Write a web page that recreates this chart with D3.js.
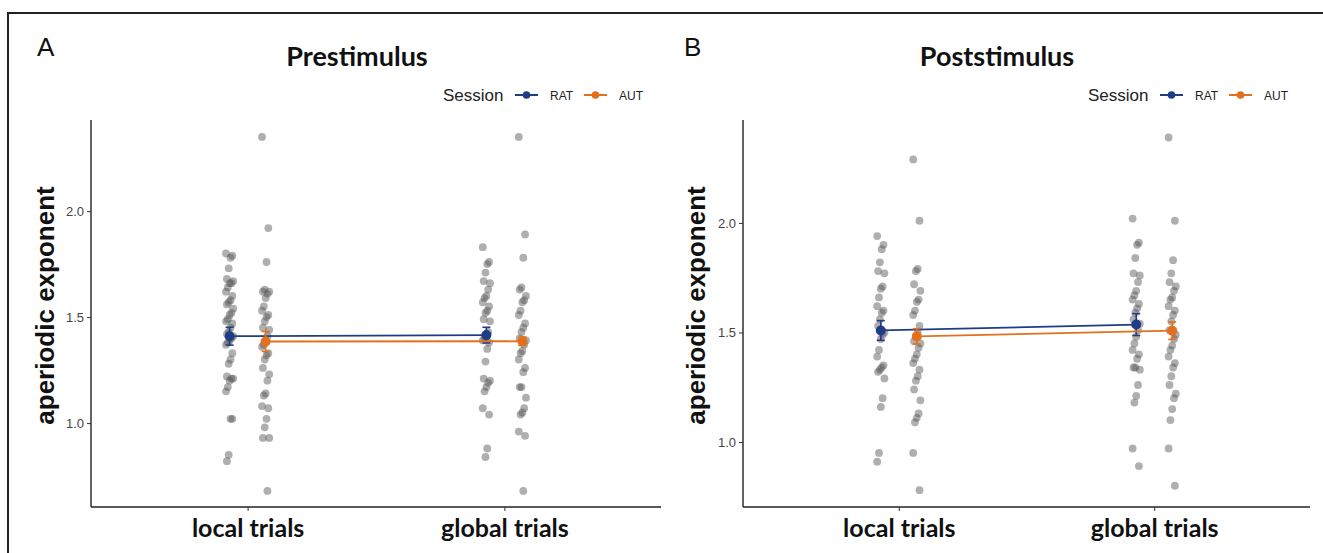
<!DOCTYPE html>
<html>
<head>
<meta charset="utf-8">
<script src="https://cdn.jsdelivr.net/npm/d3@7"></script>
<style>
  body { margin: 0; background: #fff; }
  svg { display: block; }
</style>
</head>
<body>
<svg width="1323" height="553"></svg>
<script>
// data
var sessions = ["RAT", "AUT"];
var conditions = ["local trials", "global trials"];
var yTicks = [1.0, 1.5, 2.0];

// Prestimulus
var preLocalRAT = [1.80,1.79,1.78,1.73,1.68,1.67,1.66,1.66,1.64,1.62,1.60,1.58,1.57,1.56,1.54,1.52,1.51,1.49,1.48,1.47,1.45,1.43,1.42,1.41,1.40,1.39,1.38,1.37,1.33,1.30,1.28,1.22,1.21,1.21,1.20,1.17,1.15,1.02,1.02,0.85,0.82];
var preLocalAUT = [2.35,1.92,1.76,1.63,1.62,1.62,1.61,1.59,1.55,1.53,1.51,1.50,1.48,1.45,1.44,1.41,1.38,1.37,1.36,1.33,1.32,1.30,1.26,1.23,1.20,1.14,1.13,1.08,1.07,1.02,0.98,0.93,0.93,0.68];
var preGlobalRAT = [1.83,1.76,1.75,1.71,1.67,1.66,1.63,1.60,1.59,1.57,1.55,1.53,1.52,1.49,1.48,1.43,1.41,1.40,1.39,1.38,1.35,1.29,1.21,1.20,1.19,1.17,1.15,1.07,1.04,0.88,0.84];
var preGlobalAUT = [2.35,1.89,1.78,1.64,1.63,1.60,1.58,1.57,1.53,1.51,1.47,1.45,1.43,1.40,1.39,1.37,1.34,1.33,1.30,1.26,1.24,1.17,1.17,1.12,1.07,1.05,1.04,0.96,0.94,0.68];
var preMeanRAT = [1.41, 1.415];
var preMeanAUT = [1.385, 1.386];
var preSeRAT = [0.042, 0.037];
var preSeAUT = [0.047, 0.02];

// Poststimulus
var postLocalRAT = [1.94,1.90,1.88,1.82,1.78,1.77,1.71,1.70,1.66,1.62,1.60,1.59,1.56,1.53,1.50,1.49,1.47,1.42,1.39,1.35,1.34,1.33,1.32,1.29,1.20,1.16,0.95,0.91];
var postLocalAUT = [2.29,2.01,1.79,1.78,1.72,1.69,1.65,1.64,1.60,1.58,1.53,1.50,1.48,1.46,1.45,1.43,1.40,1.38,1.36,1.33,1.30,1.28,1.24,1.19,1.13,1.11,1.09,0.95,0.78];
var postGlobalRAT = [2.02,1.91,1.90,1.84,1.77,1.76,1.73,1.69,1.67,1.65,1.63,1.61,1.59,1.56,1.54,1.51,1.48,1.45,1.42,1.40,1.38,1.34,1.34,1.33,1.26,1.21,1.18,0.97,0.89];
var postGlobalAUT = [2.39,2.01,1.83,1.77,1.73,1.71,1.69,1.66,1.65,1.62,1.60,1.58,1.55,1.51,1.49,1.47,1.44,1.42,1.39,1.36,1.34,1.30,1.26,1.22,1.20,1.15,1.10,0.97,0.80];
var postMeanRAT = [1.509, 1.536];
var postMeanAUT = [1.482, 1.508];
var postSeRAT = [0.045, 0.05];
var postSeAUT = [0.035, 0.04];

var colors = { RAT: "#1f3d87", AUT: "#e2701d" };

var svg = d3.select("svg");

// outer frame (top and left edge of the figure)
svg.append("path")
    .attr("d", "M8,553 L8,13 L1323,13")
    .attr("fill", "none")
    .attr("stroke", "#222")
    .attr("stroke-width", 2);

var panels = [
    { letter: "A", title: "Prestimulus", letterX: 37, titleX: 357, ylabX: 45,
      x0: 91, x1: 661, yDomain: [0.604, 2.43], legendX: 443,
      points: { RAT: [preLocalRAT, preGlobalRAT], AUT: [preLocalAUT, preGlobalAUT] },
      means: { RAT: preMeanRAT, AUT: preMeanAUT },
      se: { RAT: preSeRAT, AUT: preSeAUT } },
    { letter: "B", title: "Poststimulus", letterX: 684, titleX: 997, ylabX: 696,
      x0: 743, x1: 1310, yDomain: [0.703, 2.47], legendX: 1088,
      points: { RAT: [postLocalRAT, postGlobalRAT], AUT: [postLocalAUT, postGlobalAUT] },
      means: { RAT: postMeanRAT, AUT: postMeanAUT },
      se: { RAT: postSeRAT, AUT: postSeAUT } }
];

var plotTop = 120, plotBottom = 507, dodge = 18;

panels.forEach(function(p) {
    var g = svg.append("g");

    var x = d3.scalePoint().domain(conditions).range([p.x0, p.x1]).padding(0.61);
    var y = d3.scaleLinear().domain(p.yDomain).range([plotBottom, plotTop]);

    // panel letter and title
    g.append("text").attr("x", p.letterX).attr("y", 56)
        .attr("font-family", "Liberation Sans, Arial, sans-serif")
        .attr("font-size", 26).attr("fill", "#111").text(p.letter);
    g.append("text").attr("x", p.titleX).attr("y", 66)
        .attr("text-anchor", "middle")
        .attr("font-family", "Lato, sans-serif").attr("font-weight", "bold")
        .attr("font-size", 27).attr("fill", "#111").text(p.title);

    // legend
    var lg = g.append("g").attr("transform", "translate(" + p.legendX + ",95)");
    lg.append("text").attr("x", 0).attr("y", 6)
        .attr("font-family", "Liberation Sans, Arial, sans-serif")
        .attr("font-size", 17).attr("fill", "#222").text("Session");
    var lx = 72;
    sessions.forEach(function(s) {
        lg.append("line").attr("x1", lx).attr("x2", lx + 23).attr("y1", 0).attr("y2", 0)
            .attr("stroke", colors[s]).attr("stroke-width", 2);
        lg.append("circle").attr("cx", lx + 11.5).attr("cy", 0).attr("r", 3.8).attr("fill", colors[s]);
        lg.append("text").attr("x", lx + 35).attr("y", 4.5)
            .attr("font-family", "Liberation Sans, Arial, sans-serif")
            .attr("font-size", 12).attr("fill", "#222").text(s);
        lx += 69;
    });

    // axes
    var yAxis = g.append("g").attr("transform", "translate(" + p.x0 + ",0)")
        .call(d3.axisLeft(y).tickValues(yTicks).tickFormat(d3.format(".1f")).tickSize(4).tickPadding(3));
    yAxis.select(".domain").attr("d", "M0," + plotTop + "V" + plotBottom).attr("stroke", "#222").attr("stroke-width", 1.4);
    yAxis.selectAll(".tick line").attr("stroke", "#333");
    yAxis.selectAll(".tick text").attr("fill", "#444").attr("font-size", 13)
        .attr("font-family", "Liberation Sans, Arial, sans-serif");

    var xAxis = g.append("g").attr("transform", "translate(0," + plotBottom + ")")
        .call(d3.axisBottom(x).tickSize(4).tickPadding(6));
    xAxis.select(".domain").attr("d", "M" + p.x0 + ",0H" + p.x1).attr("stroke", "#222").attr("stroke-width", 1.4);
    xAxis.selectAll(".tick line").attr("stroke", "#333");
    xAxis.selectAll(".tick text").attr("fill", "#111").attr("font-size", 25)
        .attr("font-family", "Lato, sans-serif").attr("font-weight", "bold")
        .attr("dy", "0.8em");

    // y label
    g.append("text")
        .attr("transform", "translate(" + p.ylabX + "," + ((plotTop + plotBottom) / 2 - 8) + ") rotate(-90)")
        .attr("text-anchor", "middle").attr("dy", "0.35em")
        .attr("font-family", "Liberation Sans, Arial, sans-serif").attr("font-weight", "bold")
        .attr("font-size", 26).attr("fill", "#111").text("aperiodic exponent");

    // raw points, small jitter around each dodged position
    sessions.forEach(function(s, si) {
        var off = si === 0 ? -dodge : dodge;
        conditions.forEach(function(c, ci) {
            g.append("g").selectAll("circle")
                .data(p.points[s][ci])
                .enter().append("circle")
                .attr("cx", function(d, i) { return x(c) + off + ((i * 7) % 9 - 4) * 0.9; })
                .attr("cy", function(d) { return y(d); })
                .attr("r", 3.9)
                .attr("fill", "#555")
                .attr("fill-opacity", 0.47);
        });
    });

    // means, error bars and connecting lines
    sessions.forEach(function(s, si) {
        var off = si === 0 ? -dodge : dodge;
        var col = colors[s];
        var line = d3.line()
            .x(function(d, i) { return x(conditions[i]) + off; })
            .y(function(d) { return y(d); });
        g.append("path").datum(p.means[s]).attr("d", line)
            .attr("fill", "none").attr("stroke", col).attr("stroke-width", 1.8);
        conditions.forEach(function(c, ci) {
            var cx = x(c) + off, m = p.means[s][ci], e = p.se[s][ci];
            g.append("line").attr("x1", cx).attr("x2", cx).attr("y1", y(m - e)).attr("y2", y(m + e))
                .attr("stroke", col).attr("stroke-width", 1.6);
            [m - e, m + e].forEach(function(v) {
                g.append("line").attr("x1", cx - 4).attr("x2", cx + 4).attr("y1", y(v)).attr("y2", y(v))
                    .attr("stroke", col).attr("stroke-width", 1.6);
            });
            g.append("circle").attr("cx", cx).attr("cy", y(m)).attr("r", 5).attr("fill", col);
        });
    });
});
</script>
</body>
</html>
